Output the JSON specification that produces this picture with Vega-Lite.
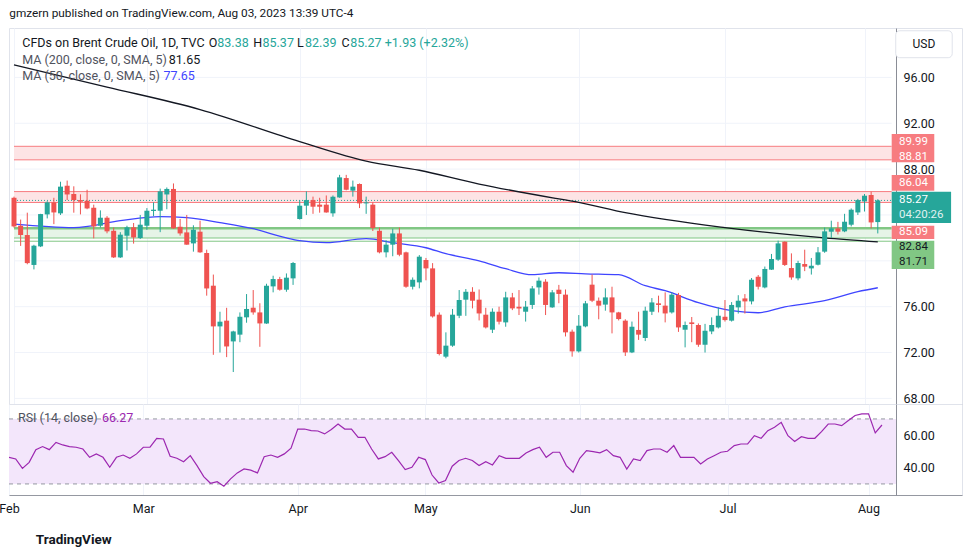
{
  "$schema": "https://vega.github.io/schema/vega-lite/v6.json",
  "background": "white",
  "padding": {"left": -2, "top": 7, "right": 8, "bottom": 0},
  "spacing": 0,
  "bounds": "flush",
  "config": {
    "font": "Roboto",
    "view": {"stroke": "#e0e3eb"},
    "axis": {"labelFont": "Roboto", "labelColor": "#131722", "titleFont": "Roboto"},
    "title": {"font": "Roboto"}
  },
  "title": {"text": "gmzern published on TradingView.com, Aug 03, 2023 13:39 UTC-4", "anchor": "start", "fontSize": 11.8, "fontWeight": "normal", "color": "#131722", "offset": 8, "dx": 11},
  "datasets": {
    "ohlc": [
      {"i":0,"o":85.5,"h":85.6,"l":82.9,"c":83.0},
      {"i":1,"o":83.06,"h":83.6,"l":81.3,"c":82.25},
      {"i":2,"o":82.25,"h":84.2,"l":79.7,"c":79.8},
      {"i":3,"o":79.64,"h":81.4,"l":79.25,"c":81.32},
      {"i":4,"o":81.26,"h":84.1,"l":81.2,"c":84.08},
      {"i":5,"o":84.05,"h":85.2,"l":83.7,"c":85.1},
      {"i":6,"o":85.1,"h":85.5,"l":83.2,"c":84.22},
      {"i":7,"o":84.14,"h":86.9,"l":84.0,"c":86.47},
      {"i":8,"o":86.55,"h":87.0,"l":85.3,"c":85.79},
      {"i":9,"o":85.83,"h":86.5,"l":84.2,"c":85.3},
      {"i":10,"o":85.3,"h":85.8,"l":84.05,"c":85.16},
      {"i":11,"o":85.24,"h":86.2,"l":84.5,"c":84.57},
      {"i":12,"o":84.63,"h":84.9,"l":81.96,"c":83.0},
      {"i":13,"o":83.06,"h":84.4,"l":82.9,"c":83.76},
      {"i":14,"o":83.76,"h":83.9,"l":82.4,"c":82.57},
      {"i":15,"o":82.62,"h":82.9,"l":80.25,"c":80.3},
      {"i":16,"o":80.3,"h":82.5,"l":80.25,"c":82.28},
      {"i":17,"o":82.19,"h":83.06,"l":80.9,"c":82.92},
      {"i":18,"o":82.92,"h":83.3,"l":81.5,"c":82.04},
      {"i":19,"o":81.99,"h":84.0,"l":81.9,"c":83.15},
      {"i":20,"o":83.06,"h":84.6,"l":82.7,"c":84.37},
      {"i":21,"o":84.35,"h":85.1,"l":83.9,"c":84.46},
      {"i":22,"o":84.37,"h":86.3,"l":82.5,"c":86.06},
      {"i":23,"o":85.79,"h":86.4,"l":84.5,"c":86.27},
      {"i":24,"o":86.27,"h":86.75,"l":82.8,"c":82.83},
      {"i":25,"o":82.97,"h":83.65,"l":82.2,"c":82.39},
      {"i":26,"o":82.48,"h":84.0,"l":81.4,"c":81.41},
      {"i":27,"o":81.52,"h":83.1,"l":80.8,"c":82.71},
      {"i":28,"o":82.54,"h":83.5,"l":80.7,"c":80.74},
      {"i":29,"o":80.68,"h":80.97,"l":76.96,"c":77.59},
      {"i":30,"o":77.83,"h":78.8,"l":71.8,"c":74.28},
      {"i":31,"o":74.28,"h":75.56,"l":72.0,"c":74.69},
      {"i":32,"o":74.78,"h":75.9,"l":71.6,"c":72.53},
      {"i":33,"o":72.97,"h":73.9,"l":70.3,"c":73.84},
      {"i":34,"o":73.56,"h":75.5,"l":72.9,"c":75.12},
      {"i":35,"o":75.07,"h":77.1,"l":74.6,"c":75.8},
      {"i":36,"o":75.91,"h":77.45,"l":75.3,"c":75.5},
      {"i":37,"o":75.5,"h":76.3,"l":72.5,"c":74.54},
      {"i":38,"o":74.54,"h":78.0,"l":74.5,"c":77.83},
      {"i":39,"o":77.77,"h":78.7,"l":77.25,"c":78.41},
      {"i":40,"o":78.41,"h":78.6,"l":77.4,"c":77.48},
      {"i":41,"o":77.48,"h":78.9,"l":77.3,"c":78.53},
      {"i":42,"o":78.47,"h":79.9,"l":77.9,"c":79.81},
      {"i":43,"o":83.65,"h":85.3,"l":83.6,"c":84.81},
      {"i":44,"o":84.81,"h":86.06,"l":84.0,"c":85.3},
      {"i":45,"o":85.3,"h":85.6,"l":84.1,"c":84.72},
      {"i":46,"o":84.9,"h":85.5,"l":84.2,"c":84.72},
      {"i":47,"o":84.9,"h":85.7,"l":84.2,"c":84.22},
      {"i":48,"o":84.14,"h":85.7,"l":83.85,"c":85.59},
      {"i":49,"o":85.53,"h":87.5,"l":85.5,"c":87.28},
      {"i":50,"o":87.22,"h":87.5,"l":86.15,"c":86.2},
      {"i":51,"o":86.12,"h":87.0,"l":85.6,"c":86.47},
      {"i":52,"o":86.7,"h":86.75,"l":84.6,"c":85.01},
      {"i":53,"o":85.01,"h":85.6,"l":84.1,"c":85.1},
      {"i":54,"o":84.9,"h":85.1,"l":82.6,"c":82.86},
      {"i":55,"o":82.62,"h":82.9,"l":80.65,"c":80.74},
      {"i":56,"o":80.74,"h":81.8,"l":80.3,"c":81.41},
      {"i":57,"o":81.41,"h":82.8,"l":80.4,"c":82.39},
      {"i":58,"o":82.39,"h":82.9,"l":80.4,"c":80.53},
      {"i":59,"o":80.74,"h":80.8,"l":77.65,"c":77.74},
      {"i":60,"o":77.74,"h":78.55,"l":77.5,"c":78.35},
      {"i":61,"o":78.12,"h":80.5,"l":77.6,"c":80.36},
      {"i":62,"o":80.07,"h":80.25,"l":78.3,"c":79.34},
      {"i":63,"o":79.34,"h":79.8,"l":75.05,"c":75.15},
      {"i":64,"o":75.3,"h":75.5,"l":71.75,"c":71.87},
      {"i":65,"o":71.64,"h":73.76,"l":71.5,"c":72.6},
      {"i":66,"o":72.6,"h":75.8,"l":72.5,"c":75.3},
      {"i":67,"o":75.21,"h":77.45,"l":75.0,"c":76.58},
      {"i":68,"o":76.61,"h":77.54,"l":75.2,"c":77.3},
      {"i":69,"o":77.3,"h":77.7,"l":75.85,"c":76.52},
      {"i":70,"o":76.61,"h":77.5,"l":74.8,"c":75.41},
      {"i":71,"o":75.3,"h":75.9,"l":74.1,"c":74.19},
      {"i":72,"o":73.99,"h":75.85,"l":73.7,"c":75.56},
      {"i":73,"o":75.56,"h":76.0,"l":74.45,"c":74.69},
      {"i":74,"o":74.63,"h":77.3,"l":74.25,"c":76.81},
      {"i":75,"o":76.81,"h":77.2,"l":75.7,"c":75.85},
      {"i":76,"o":76.0,"h":77.45,"l":75.27,"c":75.85},
      {"i":77,"o":75.56,"h":76.5,"l":74.7,"c":76.0},
      {"i":78,"o":76.15,"h":77.8,"l":75.8,"c":77.59},
      {"i":79,"o":77.68,"h":78.55,"l":77.05,"c":78.27},
      {"i":80,"o":78.18,"h":78.4,"l":75.27,"c":76.15},
      {"i":81,"o":75.94,"h":77.45,"l":75.9,"c":77.25},
      {"i":82,"o":77.48,"h":77.9,"l":76.3,"c":77.11},
      {"i":83,"o":77.05,"h":77.5,"l":73.4,"c":73.76},
      {"i":84,"o":73.82,"h":74.0,"l":71.64,"c":72.1},
      {"i":85,"o":72.1,"h":75.27,"l":72.0,"c":74.34},
      {"i":86,"o":74.28,"h":76.5,"l":74.2,"c":76.29},
      {"i":87,"o":77.92,"h":78.8,"l":76.4,"c":76.52},
      {"i":88,"o":76.52,"h":76.8,"l":74.9,"c":76.09},
      {"i":89,"o":76.18,"h":77.6,"l":75.65,"c":76.81},
      {"i":90,"o":76.81,"h":77.74,"l":73.67,"c":75.5},
      {"i":91,"o":75.5,"h":75.55,"l":74.8,"c":74.92},
      {"i":92,"o":74.78,"h":74.9,"l":71.7,"c":72.01},
      {"i":93,"o":72.01,"h":74.7,"l":71.95,"c":74.25},
      {"i":94,"o":73.97,"h":75.56,"l":73.1,"c":73.56},
      {"i":95,"o":73.27,"h":76.0,"l":73.0,"c":75.65},
      {"i":96,"o":75.56,"h":76.75,"l":75.27,"c":76.37},
      {"i":97,"o":76.29,"h":76.96,"l":75.5,"c":76.15},
      {"i":98,"o":76.09,"h":77.25,"l":74.63,"c":75.41},
      {"i":99,"o":75.5,"h":77.25,"l":75.4,"c":77.05},
      {"i":100,"o":77.02,"h":77.2,"l":73.8,"c":74.19},
      {"i":101,"o":73.99,"h":74.7,"l":72.45,"c":74.4},
      {"i":102,"o":74.63,"h":75.1,"l":72.9,"c":74.49},
      {"i":103,"o":74.4,"h":74.54,"l":72.5,"c":72.68},
      {"i":104,"o":72.68,"h":74.5,"l":72.0,"c":73.9},
      {"i":105,"o":73.84,"h":75.07,"l":73.6,"c":74.4},
      {"i":106,"o":74.19,"h":75.94,"l":74.1,"c":75.21},
      {"i":107,"o":75.12,"h":76.58,"l":74.7,"c":74.83},
      {"i":108,"o":74.78,"h":76.4,"l":74.7,"c":76.15},
      {"i":109,"o":75.94,"h":77.0,"l":75.4,"c":76.52},
      {"i":110,"o":76.72,"h":77.1,"l":75.4,"c":76.46},
      {"i":111,"o":76.46,"h":78.5,"l":76.2,"c":78.35},
      {"i":112,"o":78.61,"h":78.76,"l":77.5,"c":77.74},
      {"i":113,"o":77.68,"h":79.5,"l":77.6,"c":79.29},
      {"i":114,"o":79.23,"h":80.6,"l":79.2,"c":80.16},
      {"i":115,"o":80.1,"h":81.76,"l":80.0,"c":81.52},
      {"i":116,"o":81.67,"h":81.7,"l":79.55,"c":79.64},
      {"i":117,"o":79.37,"h":80.65,"l":78.35,"c":78.55},
      {"i":118,"o":78.47,"h":80.0,"l":78.3,"c":79.81},
      {"i":119,"o":79.72,"h":80.97,"l":79.1,"c":79.49},
      {"i":120,"o":79.34,"h":80.25,"l":78.8,"c":79.57},
      {"i":121,"o":79.66,"h":81.2,"l":79.6,"c":80.74},
      {"i":122,"o":80.8,"h":82.9,"l":80.7,"c":82.57},
      {"i":123,"o":82.54,"h":83.5,"l":82.0,"c":82.83},
      {"i":124,"o":82.83,"h":83.4,"l":82.3,"c":82.54},
      {"i":125,"o":82.57,"h":84.1,"l":82.5,"c":83.41},
      {"i":126,"o":83.15,"h":84.57,"l":83.0,"c":84.46},
      {"i":127,"o":84.22,"h":85.4,"l":84.0,"c":85.3},
      {"i":128,"o":85.18,"h":85.83,"l":84.3,"c":85.68},
      {"i":129,"o":85.74,"h":86.03,"l":82.83,"c":83.35},
      {"i":130,"o":83.38,"h":85.37,"l":82.39,"c":85.27}
    ],
    "ma200": [
      {"i":0,"v":97.1},{"i":14,"v":95.16},{"i":28,"v":93.2},{"i":43,"v":90.4},{"i":53,"v":88.7},{"i":61,"v":87.9},{"i":70,"v":86.7},{"i":82,"v":85.4},{"i":85,"v":85.1},{"i":92,"v":84.2},{"i":107,"v":82.9},{"i":122,"v":82.0},{"i":130,"v":81.65}
    ],
    "ma50": [
      {"i":0,"v":83.2},{"i":9,"v":82.9},{"i":16,"v":83.5},{"i":22,"v":83.85},{"i":26,"v":83.76},{"i":31,"v":83.33},{"i":36,"v":82.8},{"i":41,"v":82.0},{"i":43,"v":81.76},{"i":47,"v":81.58},{"i":53,"v":81.93},{"i":57,"v":81.58},{"i":62,"v":81.14},{"i":65,"v":80.62},{"i":70,"v":80.0},{"i":74,"v":79.31},{"i":78,"v":78.79},{"i":82,"v":78.96},{"i":86,"v":78.87},{"i":91,"v":78.79},{"i":95,"v":77.83},{"i":98,"v":77.39},{"i":103,"v":76.35},{"i":108,"v":75.65},{"i":112,"v":75.47},{"i":116,"v":75.99},{"i":122,"v":76.52},{"i":127,"v":77.31},{"i":130,"v":77.65}
    ],
    "rsi": [
      {"i":0,"v":46.4},{"i":1,"v":45.4},{"i":2,"v":39.6},{"i":3,"v":43.3},{"i":4,"v":51.1},{"i":5,"v":53.0},{"i":6,"v":51.1},{"i":7,"v":55.6},{"i":8,"v":54.0},{"i":9,"v":53.0},
      {"i":10,"v":52.6},{"i":11,"v":51.5},{"i":12,"v":46.4},{"i":13,"v":48.5},{"i":14,"v":46.4},{"i":15,"v":40.3},{"i":16,"v":46.4},{"i":17,"v":47.8},{"i":18,"v":45.8},{"i":19,"v":48.5},
      {"i":20,"v":52.6},{"i":21,"v":52.6},{"i":22,"v":58.1},{"i":23,"v":57.7},{"i":24,"v":47.0},{"i":25,"v":45.8},{"i":26,"v":43.7},{"i":27,"v":47.4},{"i":28,"v":41.3},{"i":29,"v":34.5},
      {"i":30,"v":30.4},{"i":31,"v":31.4},{"i":32,"v":28.6},{"i":33,"v":33.1},{"i":34,"v":36.8},{"i":35,"v":39.2},{"i":36,"v":38.5},{"i":37,"v":36.8},{"i":38,"v":46.8},{"i":39,"v":47.8},
      {"i":40,"v":46.4},{"i":41,"v":48.5},{"i":42,"v":52.0},{"i":43,"v":63.8},{"i":44,"v":63.8},{"i":45,"v":62.8},{"i":46,"v":62.6},{"i":47,"v":60.8},{"i":48,"v":63.5},{"i":49,"v":66.9},
      {"i":50,"v":63.8},{"i":51,"v":63.8},{"i":52,"v":58.7},{"i":53,"v":58.7},{"i":54,"v":51.5},{"i":55,"v":45.4},{"i":56,"v":46.8},{"i":57,"v":49.5},{"i":58,"v":44.4},{"i":59,"v":38.8},
      {"i":60,"v":40.3},{"i":61,"v":46.4},{"i":62,"v":45.0},{"i":63,"v":35.5},{"i":64,"v":30.6},{"i":65,"v":32.1},{"i":66,"v":40.9},{"i":67,"v":44.4},{"i":68,"v":45.8},{"i":69,"v":44.4},
      {"i":70,"v":41.3},{"i":71,"v":43.7},{"i":72,"v":41.7},{"i":73,"v":47.4},{"i":74,"v":45.8},{"i":75,"v":45.8},{"i":76,"v":45.8},{"i":77,"v":49.0},{"i":78,"v":51.1},{"i":79,"v":52.6},
      {"i":80,"v":46.4},{"i":81,"v":49.5},{"i":82,"v":49.5},{"i":83,"v":41.3},{"i":84,"v":37.2},{"i":85,"v":45.8},{"i":86,"v":50.5},{"i":87,"v":49.9},{"i":88,"v":49.1},{"i":89,"v":51.1},
      {"i":90,"v":47.4},{"i":91,"v":46.4},{"i":92,"v":39.2},{"i":93,"v":45.4},{"i":94,"v":44.4},{"i":95,"v":50.5},{"i":96,"v":51.5},{"i":97,"v":51.5},{"i":98,"v":49.5},{"i":99,"v":53.6},
      {"i":100,"v":46.4},{"i":101,"v":46.4},{"i":102,"v":46.4},{"i":103,"v":42.3},{"i":104,"v":45.4},{"i":105,"v":47.4},{"i":106,"v":49.5},{"i":107,"v":50.1},{"i":108,"v":53.6},{"i":109,"v":54.6},
      {"i":110,"v":54.6},{"i":111,"v":59.7},{"i":112,"v":58.1},{"i":113,"v":62.8},{"i":114,"v":64.9},{"i":115,"v":67.9},{"i":116,"v":59.7},{"i":117,"v":56.1},{"i":118,"v":59.1},{"i":119,"v":58.1},
      {"i":120,"v":58.1},{"i":121,"v":62.2},{"i":122,"v":66.9},{"i":123,"v":66.9},{"i":124,"v":65.9},{"i":125,"v":69.0},{"i":126,"v":72.1},{"i":127,"v":73.1},{"i":128,"v":73.1},{"i":129,"v":61.4},
      {"i":130,"v":66.27}
    ],
    "grid": [{"v":68},{"v":72},{"v":76},{"v":80},{"v":84},{"v":88},{"v":92},{"v":96}]
  },
  "vconcat": [
    {
      "width": 953,
      "height": 376,
      "layer": [
        {
          "data": {"name": "grid"},
          "mark": {"type": "rule", "color": "#f0f3fa", "strokeWidth": 1},
          "encoding": {
            "x": {"datum": 0, "type": "quantitative", "scale": {"domain": [0, 141.92], "nice": false, "zero": false},
              "axis": {"orient": "bottom", "title": null, "labels": false, "ticks": false, "domain": true, "domainColor": "#9598a1", "grid": true, "gridColor": "#f0f3fa", "values": [0, 20, 43, 62, 85, 107, 128]}},
            "x2": {"datum": 132.09},
            "y": {"field": "v", "type": "quantitative", "title": null, "scale": {"domain": [67.51, 100.31], "nice": false, "zero": false},
              "axis": {"orient": "right", "offset": -66, "title": null, "grid": false, "ticks": false, "labelPadding": 7, "values": [68, 72, 76, 88, 92, 96], "format": ".2f", "labelFontSize": 12.5, "labelColor": "#131722", "domainColor": "#8a8d96"}}
          }
        },
        {
          "data": {"values": [{}]},
          "mark": {"type": "rect", "color": "#fde4e5"},
          "encoding": {"x": {"datum": 0, "type": "quantitative"}, "x2": {"datum": 132.09}, "y": {"datum": 88.81, "type": "quantitative"}, "y2": {"datum": 89.99}}
        },
        {
          "data": {"values": [{}]},
          "mark": {"type": "rect", "color": "#fde4e5"},
          "encoding": {"x": {"datum": 0, "type": "quantitative"}, "x2": {"datum": 132.09}, "y": {"datum": 85.09, "type": "quantitative"}, "y2": {"datum": 86.04}}
        },
        {
          "data": {"values": [{}]},
          "mark": {"type": "rect", "color": "#e6f4e7"},
          "encoding": {"x": {"datum": 0, "type": "quantitative"}, "x2": {"datum": 132.09}, "y": {"datum": 81.99, "type": "quantitative"}, "y2": {"datum": 82.84}}
        },
        {
          "data": {"values": [{}]},
          "mark": {"type": "rule", "color": "#f77c80", "strokeWidth": 1},
          "encoding": {"x": {"datum": 0, "type": "quantitative"}, "x2": {"datum": 132.09}, "y": {"datum": 89.99, "type": "quantitative"}}
        },
        {
          "data": {"values": [{}]},
          "mark": {"type": "rule", "color": "#f77c80", "strokeWidth": 1},
          "encoding": {"x": {"datum": 0, "type": "quantitative"}, "x2": {"datum": 132.09}, "y": {"datum": 88.81, "type": "quantitative"}}
        },
        {
          "data": {"values": [{}]},
          "mark": {"type": "rule", "color": "#f77c80", "strokeWidth": 1},
          "encoding": {"x": {"datum": 0, "type": "quantitative"}, "x2": {"datum": 132.09}, "y": {"datum": 86.04, "type": "quantitative"}}
        },
        {
          "data": {"values": [{}]},
          "mark": {"type": "rule", "color": "#f77c80", "strokeWidth": 1},
          "encoding": {"x": {"datum": 0, "type": "quantitative"}, "x2": {"datum": 132.09}, "y": {"datum": 85.09, "type": "quantitative"}}
        },
        {
          "data": {"values": [{}]},
          "mark": {"type": "rule", "color": "#81c784", "strokeWidth": 2.5},
          "encoding": {"x": {"datum": 0, "type": "quantitative"}, "x2": {"datum": 132.09}, "y": {"datum": 82.84, "type": "quantitative"}}
        },
        {
          "data": {"values": [{}]},
          "mark": {"type": "rule", "color": "#81c784", "strokeWidth": 1},
          "encoding": {"x": {"datum": 0, "type": "quantitative"}, "x2": {"datum": 132.09}, "y": {"datum": 81.99, "type": "quantitative"}}
        },
        {
          "data": {"values": [{}]},
          "mark": {"type": "rule", "color": "#81c784", "strokeWidth": 1},
          "encoding": {"x": {"datum": 0, "type": "quantitative"}, "x2": {"datum": 132.09}, "y": {"datum": 81.71, "type": "quantitative"}}
        },
        {
          "data": {"values": [{}]},
          "mark": {"type": "rule", "color": "#26a69a", "strokeWidth": 1, "strokeDash": [1, 2]},
          "encoding": {"x": {"datum": 0, "type": "quantitative"}, "x2": {"datum": 132.09}, "y": {"datum": 85.27, "type": "quantitative"}}
        },
        {
          "data": {"name": "ma200"},
          "mark": {"type": "line", "color": "#131722", "strokeWidth": 1.3, "interpolate": "monotone", "clip": true},
          "encoding": {"x": {"field": "i", "type": "quantitative", "title": null}, "y": {"field": "v", "type": "quantitative", "title": null}}
        },
        {
          "data": {"name": "ma50"},
          "mark": {"type": "line", "color": "#3f45ff", "strokeWidth": 1.3, "interpolate": "monotone", "clip": true},
          "encoding": {"x": {"field": "i", "type": "quantitative", "title": null}, "y": {"field": "v", "type": "quantitative", "title": null}}
        },
        {
          "data": {"name": "ohlc"},
          "mark": {"type": "rule", "strokeWidth": 1, "clip": true},
          "encoding": {
            "x": {"field": "i", "type": "quantitative", "title": null},
            "y": {"field": "l", "type": "quantitative", "title": null},
            "y2": {"field": "h"},
            "color": {"condition": {"test": "datum.c >= datum.o", "value": "#26a69a"}, "value": "#ef5350"}
          }
        },
        {
          "data": {"name": "ohlc"},
          "mark": {"type": "bar", "width": 5, "clip": true},
          "encoding": {
            "x": {"field": "i", "type": "quantitative", "title": null},
            "y": {"field": "o", "type": "quantitative", "title": null},
            "y2": {"field": "c"},
            "color": {"condition": {"test": "datum.c >= datum.o", "value": "#26a69a"}, "value": "#ef5350"}
          }
        },
        {
          "data": {"values": [{}]},
          "mark": {"type": "rect", "color": "#f77c80"},
          "encoding": {"x": {"datum": 132.09, "type": "quantitative"}, "x2": {"datum": 138.5}, "y": {"datum": 88.59, "type": "quantitative"}, "y2": {"datum": 91.06}}
        },
        {
          "data": {"values": [{}]},
          "mark": {"type": "rect", "color": "#f77c80"},
          "encoding": {"x": {"datum": 132.09, "type": "quantitative"}, "x2": {"datum": 138.5}, "y": {"datum": 86.11, "type": "quantitative"}, "y2": {"datum": 87.49}}
        },
        {
          "data": {"values": [{}]},
          "mark": {"type": "rect", "color": "#26a69a"},
          "encoding": {"x": {"datum": 132.09, "type": "quantitative"}, "x2": {"datum": 141.03}, "y": {"datum": 83.3, "type": "quantitative"}, "y2": {"datum": 86.03}}
        },
        {
          "data": {"values": [{}]},
          "mark": {"type": "rect", "color": "#f77c80"},
          "encoding": {"x": {"datum": 132.09, "type": "quantitative"}, "x2": {"datum": 138.5}, "y": {"datum": 81.9, "type": "quantitative"}, "y2": {"datum": 83.06}}
        },
        {
          "data": {"values": [{}]},
          "mark": {"type": "rect", "color": "#81c784"},
          "encoding": {"x": {"datum": 132.09, "type": "quantitative"}, "x2": {"datum": 138.5}, "y": {"datum": 79.29, "type": "quantitative"}, "y2": {"datum": 81.76}}
        },
        {
          "data": {"values": [{}]},
          "mark": {"type": "text", "text": "89.99", "color": "white", "align": "left", "baseline": "middle", "fontSize": 11.5},
          "encoding": {"x": {"datum": 133.2, "type": "quantitative"}, "y": {"datum": 90.39, "type": "quantitative"}}
        },
        {
          "data": {"values": [{}]},
          "mark": {"type": "text", "text": "88.81", "color": "white", "align": "left", "baseline": "middle", "fontSize": 11.5},
          "encoding": {"x": {"datum": 133.2, "type": "quantitative"}, "y": {"datum": 89.1, "type": "quantitative"}}
        },
        {
          "data": {"values": [{}]},
          "mark": {"type": "text", "text": "86.04", "color": "white", "align": "left", "baseline": "middle", "fontSize": 11.5},
          "encoding": {"x": {"datum": 133.2, "type": "quantitative"}, "y": {"datum": 86.81, "type": "quantitative"}}
        },
        {
          "data": {"values": [{}]},
          "mark": {"type": "text", "text": "85.27", "color": "white", "align": "left", "baseline": "middle", "fontSize": 11.5},
          "encoding": {"x": {"datum": 133.2, "type": "quantitative"}, "y": {"datum": 85.33, "type": "quantitative"}}
        },
        {
          "data": {"values": [{}]},
          "mark": {"type": "text", "text": "04:20:26", "color": "#e0f2f1", "align": "left", "baseline": "middle", "fontSize": 11.5},
          "encoding": {"x": {"datum": 133.2, "type": "quantitative"}, "y": {"datum": 83.96, "type": "quantitative"}}
        },
        {
          "data": {"values": [{}]},
          "mark": {"type": "text", "text": "85.09", "color": "white", "align": "left", "baseline": "middle", "fontSize": 11.5},
          "encoding": {"x": {"datum": 133.2, "type": "quantitative"}, "y": {"datum": 82.48, "type": "quantitative"}}
        },
        {
          "data": {"values": [{}]},
          "mark": {"type": "text", "text": "82.84", "color": "#131722", "align": "left", "baseline": "middle", "fontSize": 11.5},
          "encoding": {"x": {"datum": 133.2, "type": "quantitative"}, "y": {"datum": 81.2, "type": "quantitative"}}
        },
        {
          "data": {"values": [{}]},
          "mark": {"type": "text", "text": "81.71", "color": "#131722", "align": "left", "baseline": "middle", "fontSize": 11.5},
          "encoding": {"x": {"datum": 133.2, "type": "quantitative"}, "y": {"datum": 79.86, "type": "quantitative"}}
        },
        {
          "data": {"values": [{}]},
          "mark": {"type": "rect", "fill": "white", "stroke": "#e0e3eb", "strokeWidth": 1, "cornerRadius": 4},
          "encoding": {"x": {"datum": 132.7, "type": "quantitative"}, "x2": {"datum": 141.2}, "y": {"datum": 97.72, "type": "quantitative"}, "y2": {"datum": 100.07}}
        },
        {
          "data": {"values": [{}]},
          "mark": {"type": "text", "text": "USD", "color": "#131722", "align": "center", "baseline": "middle", "fontSize": 12},
          "encoding": {"x": {"datum": 136.95, "type": "quantitative"}, "y": {"datum": 98.9, "type": "quantitative"}}
        },
        {
          "data": {"values": [{}]},
          "mark": {"type": "text", "text": "CFDs on Brent Crude Oil, 1D, TVC", "color": "#131722", "align": "left", "baseline": "middle", "fontSize": 12.5},
          "encoding": {"x": {"datum": 1.24, "type": "quantitative"}, "y": {"datum": 98.97, "type": "quantitative"}}
        },
        {
          "data": {"values": [{}]},
          "mark": {"type": "text", "text": "O", "color": "#131722", "align": "left", "baseline": "middle", "fontSize": 12.5},
          "encoding": {"x": {"datum": 29.3, "type": "quantitative"}, "y": {"datum": 98.97, "type": "quantitative"}}
        },
        {
          "data": {"values": [{}]},
          "mark": {"type": "text", "text": "83.38", "color": "#26a69a", "align": "left", "baseline": "middle", "fontSize": 12.5},
          "encoding": {"x": {"datum": 30.6, "type": "quantitative"}, "y": {"datum": 98.97, "type": "quantitative"}}
        },
        {
          "data": {"values": [{}]},
          "mark": {"type": "text", "text": "H", "color": "#131722", "align": "left", "baseline": "middle", "fontSize": 12.5},
          "encoding": {"x": {"datum": 36.0, "type": "quantitative"}, "y": {"datum": 98.97, "type": "quantitative"}}
        },
        {
          "data": {"values": [{}]},
          "mark": {"type": "text", "text": "85.37", "color": "#26a69a", "align": "left", "baseline": "middle", "fontSize": 12.5},
          "encoding": {"x": {"datum": 37.4, "type": "quantitative"}, "y": {"datum": 98.97, "type": "quantitative"}}
        },
        {
          "data": {"values": [{}]},
          "mark": {"type": "text", "text": "L", "color": "#131722", "align": "left", "baseline": "middle", "fontSize": 12.5},
          "encoding": {"x": {"datum": 42.6, "type": "quantitative"}, "y": {"datum": 98.97, "type": "quantitative"}}
        },
        {
          "data": {"values": [{}]},
          "mark": {"type": "text", "text": "82.39", "color": "#26a69a", "align": "left", "baseline": "middle", "fontSize": 12.5},
          "encoding": {"x": {"datum": 43.8, "type": "quantitative"}, "y": {"datum": 98.97, "type": "quantitative"}}
        },
        {
          "data": {"values": [{}]},
          "mark": {"type": "text", "text": "C", "color": "#131722", "align": "left", "baseline": "middle", "fontSize": 12.5},
          "encoding": {"x": {"datum": 49.3, "type": "quantitative"}, "y": {"datum": 98.97, "type": "quantitative"}}
        },
        {
          "data": {"values": [{}]},
          "mark": {"type": "text", "text": "85.27 +1.93 (+2.32%)", "color": "#26a69a", "align": "left", "baseline": "middle", "fontSize": 12.5},
          "encoding": {"x": {"datum": 50.6, "type": "quantitative"}, "y": {"datum": 98.97, "type": "quantitative"}}
        },
        {
          "data": {"values": [{}]},
          "mark": {"type": "text", "text": "MA (200, close, 0, SMA, 5)", "color": "#50535e", "align": "left", "baseline": "middle", "fontSize": 12.5},
          "encoding": {"x": {"datum": 1.24, "type": "quantitative"}, "y": {"datum": 97.52, "type": "quantitative"}}
        },
        {
          "data": {"values": [{}]},
          "mark": {"type": "text", "text": "81.65", "color": "#131722", "align": "left", "baseline": "middle", "fontSize": 12.5},
          "encoding": {"x": {"datum": 23.3, "type": "quantitative"}, "y": {"datum": 97.52, "type": "quantitative"}}
        },
        {
          "data": {"values": [{}]},
          "mark": {"type": "text", "text": "MA (50, close, 0, SMA, 5)", "color": "#50535e", "align": "left", "baseline": "middle", "fontSize": 12.5},
          "encoding": {"x": {"datum": 1.24, "type": "quantitative"}, "y": {"datum": 96.09, "type": "quantitative"}}
        },
        {
          "data": {"values": [{}]},
          "mark": {"type": "text", "text": "77.65", "color": "#3f45ff", "align": "left", "baseline": "middle", "fontSize": 12.5},
          "encoding": {"x": {"datum": 22.5, "type": "quantitative"}, "y": {"datum": 96.09, "type": "quantitative"}}
        }
      ]
    },
    {
      "width": 953,
      "height": 91,
      "title": {"text": "TradingView", "orient": "bottom", "anchor": "start", "fontSize": 13.5, "fontWeight": "bold", "color": "#131722", "offset": 18, "dx": 37},
      "layer": [
        {
          "data": {"values": [{}]},
          "mark": {"type": "rect", "color": "#f3e6fb"},
          "encoding": {
            "x": {"datum": 0, "type": "quantitative", "scale": {"domain": [0, 141.92], "nice": false, "zero": false},
              "axis": {"orient": "bottom", "title": null, "ticks": false, "labelPadding": 7, "domainColor": "#9598a1", "grid": true, "gridColor": "#f0f3fa", "values": [0, 20, 43, 62, 85, 107, 128], "labelExpr": "['Feb','Mar','Apr','May','Jun','Jul','Aug'][indexof([0,20,43,62,85,107,128], datum.value)]", "labelFlush": false, "labelOverlap": false, "labelFontSize": 12.5, "labelColor": "#131722"}},
            "x2": {"datum": 132.09},
            "y": {"datum": 30, "type": "quantitative", "scale": {"domain": [23.2, 79.2], "nice": false, "zero": false},
              "axis": {"orient": "right", "offset": -66, "title": null, "grid": false, "ticks": false, "labelPadding": 7, "values": [40, 60], "format": ".2f", "labelFontSize": 12.5, "labelColor": "#131722", "domainColor": "#8a8d96"}},
            "y2": {"datum": 70}
          }
        },
        {
          "data": {"values": [{}]},
          "mark": {"type": "rule", "color": "#9598a1", "strokeWidth": 1, "strokeDash": [4, 4]},
          "encoding": {"x": {"datum": 0, "type": "quantitative"}, "x2": {"datum": 132.09}, "y": {"datum": 70, "type": "quantitative"}}
        },
        {
          "data": {"values": [{}]},
          "mark": {"type": "rule", "color": "#9598a1", "strokeWidth": 1, "strokeDash": [4, 4]},
          "encoding": {"x": {"datum": 0, "type": "quantitative"}, "x2": {"datum": 132.09}, "y": {"datum": 30, "type": "quantitative"}}
        },
        {
          "data": {"name": "rsi"},
          "mark": {"type": "line", "color": "#9c27b0", "strokeWidth": 1.2, "clip": true},
          "encoding": {"x": {"field": "i", "type": "quantitative", "title": null}, "y": {"field": "v", "type": "quantitative", "title": null}}
        },
        {
          "data": {"values": [{}]},
          "mark": {"type": "text", "text": "RSI (14, close)", "color": "#50535e", "align": "left", "baseline": "middle", "fontSize": 12.5},
          "encoding": {"x": {"datum": 1.34, "type": "quantitative"}, "y": {"datum": 70.8, "type": "quantitative"}}
        },
        {
          "data": {"values": [{}]},
          "mark": {"type": "text", "text": "66.27", "color": "#9c27b0", "align": "left", "baseline": "middle", "fontSize": 12.5},
          "encoding": {"x": {"datum": 13.85, "type": "quantitative"}, "y": {"datum": 70.8, "type": "quantitative"}}
        }
      ]
    }
  ]
}
